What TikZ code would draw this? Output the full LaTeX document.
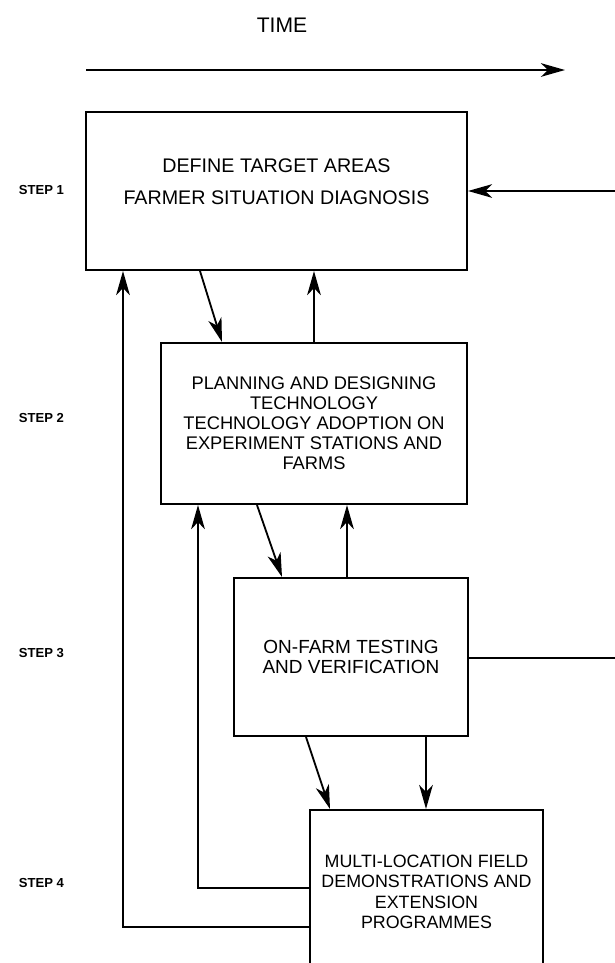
\documentclass[tikz,border=0pt]{standalone}
\usepackage{fontspec}
\setmainfont{Liberation Sans}
\usetikzlibrary{arrows.meta}
\begin{document}
\begin{tikzpicture}[
  x=0.025cm, y=-0.025cm,
  box/.style={draw, line width=1.4pt, inner sep=0pt, align=center},
  arr/.style={line width=1.3pt, -{Stealth[length=0.6cm, width=0.34cm, inset=0.17cm]}},
  lin/.style={line width=1.3pt},
  steplbl/.style={anchor=west, font=\fontsize{9.3}{11}\selectfont\bfseries}
]
\clip (0,0) rectangle (615,963);
\node (time) at (282,25) {\fontsize{15}{18}\selectfont TIME};
\coordinate (t0) at (86,70);
\coordinate (t1) at (565,70);
\draw[arr] (t0) -- (t1);
\node[box, minimum width=9.525cm, minimum height=3.95cm, text depth=0.45cm, font=\fontsize{14}{22.7}\selectfont] (b1) at (276.5,191) {DEFINE TARGET AREAS\\FARMER SITUATION DIAGNOSIS};
\node[box, minimum width=7.65cm, minimum height=4.025cm, font=\fontsize{13}{14.2}\selectfont] (b2) at (314,423.5) {PLANNING AND DESIGNING\\TECHNOLOGY\\TECHNOLOGY ADOPTION ON\\EXPERIMENT STATIONS AND\\FARMS};
\node[box, minimum width=5.85cm, minimum height=3.95cm, font=\fontsize{13.5}{14.4}\selectfont] (b3) at (351,657) {ON-FARM TESTING\\AND VERIFICATION};
\node[box, minimum width=5.825cm, minimum height=4.1cm, font=\fontsize{12.7}{14.5}\selectfont] (b4) at (426.5,892) {MULTI-LOCATION FIELD\\DEMONSTRATIONS AND\\EXTENSION\\PROGRAMMES};
\node[steplbl] (s1) at (14,190) {STEP 1};
\node[steplbl] (s2) at (14,418) {STEP 2};
\node[steplbl] (s3) at (14,653) {STEP 3};
\node[steplbl] (s4) at (14,883) {STEP 4};
% forward steps
\draw[arr] (b1.south -| 200,0) -- (b2.north -| 222,0);
\draw[arr] (b2.south -| 257,0) -- (b3.north -| 282,0);
\draw[arr] (b3.south -| 306,0) -- (b4.north -| 330,0);
\draw[arr] (b3.south -| 426,0) -- (b4.north -| 426,0);
% feedback
\draw[arr] (b2.north -| 314,0) -- (b1.south -| 314,0);
\draw[arr] (b3.north -| 347,0) -- (b2.south -| 347,0);
\draw[arr] (b4.west |- 0,888) -| (b2.south -| 198,0);
\draw[arr] (b4.west |- 0,927) -| (b1.south -| 123,0);
\coordinate (r1) at (620,191);
\coordinate (r3) at (620,658);
\draw[arr] (r1) -- (b1.east |- r1);
\draw[lin] (b3.east |- r3) -- (r3);
\end{tikzpicture}
\end{document}
